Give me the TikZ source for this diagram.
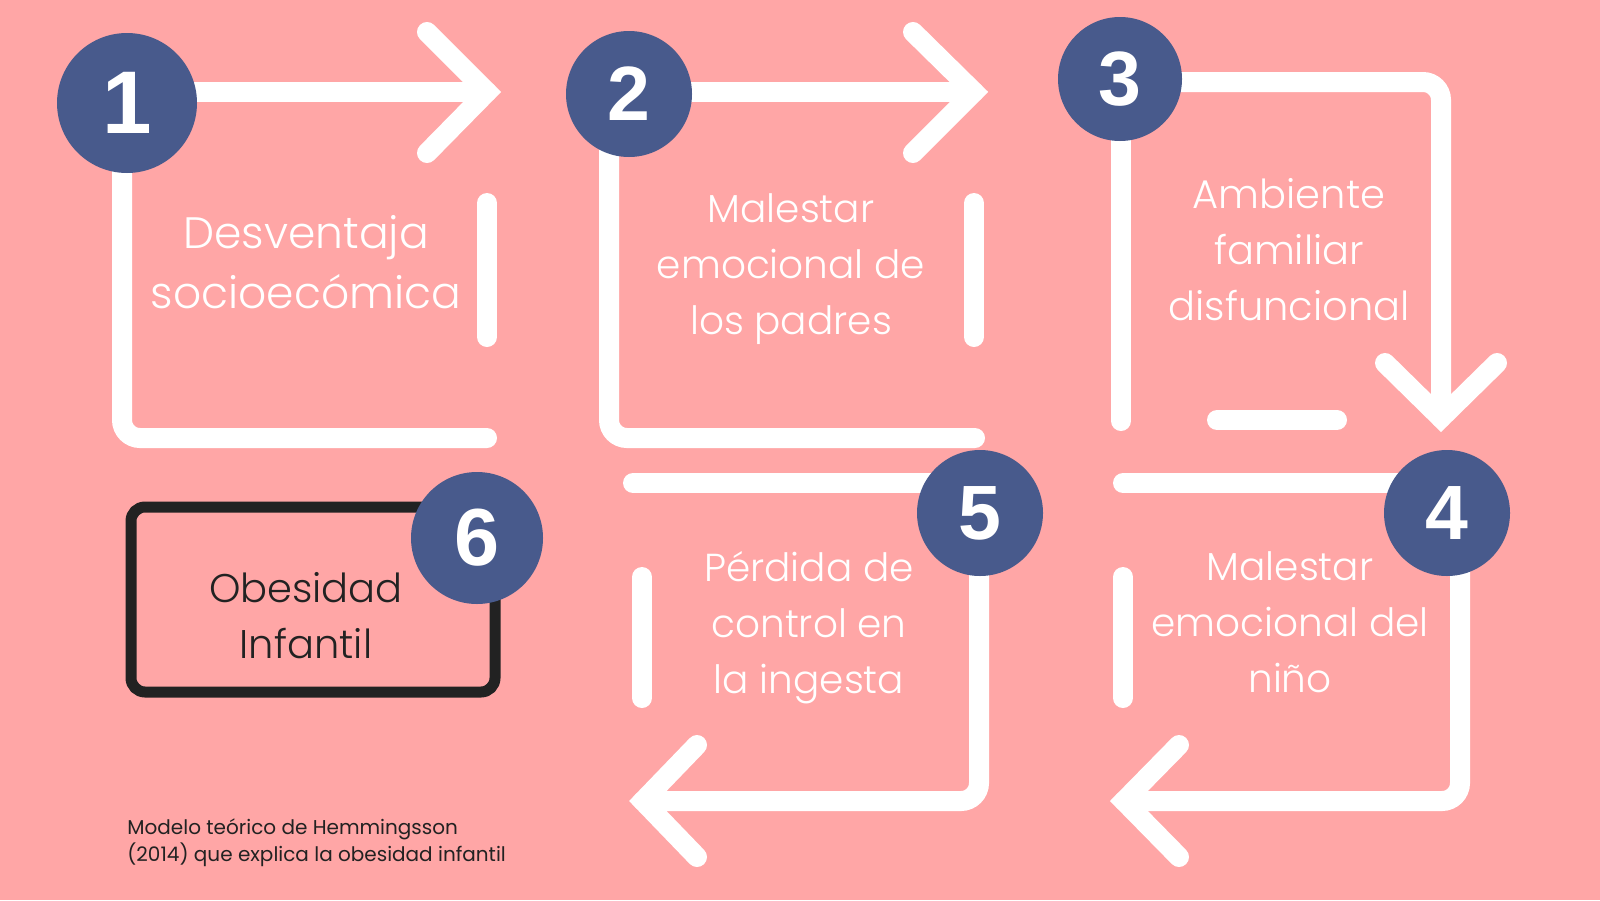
\documentclass[tikz,border=0pt]{standalone}
\usepackage{fontspec}
\setmainfont{Poppins}[UprightFont={* Light}]
\newfontfamily\capfont{Poppins}
\newfontfamily\numfont{Liberation Sans}
\usetikzlibrary{backgrounds}
\definecolor{bgpink}{HTML}{FFA6A6}
\definecolor{numblue}{HTML}{485A8C}
\definecolor{inkdark}{HTML}{222222}
\begin{document}
\begin{tikzpicture}[x=0.5pt,y=-0.5pt,
    wline/.style={draw=white,line width=10pt,line cap=round,rounded corners=9pt},
    whead/.style={draw=white,line width=10pt,line cap=round,line join=miter},
    num/.style={circle,fill=numblue,text=white,inner sep=0pt,minimum size=63pt,
      font=\numfont\bfseries\fontsize{38.5}{40}\selectfont},
    steptext/.style={text=white,align=center,inner sep=0pt,font=\fontsize{19.5}{28}\selectfont},
    goalbox/.style={draw=inkdark,line width=5.5pt,rounded corners=7pt,
      minimum width=182pt,minimum height=92.5pt,inner sep=0pt}]
  \useasboundingbox (0,0) rectangle (1600,900);
  \node[num,minimum size=70pt,font=\numfont\bfseries\fontsize{44.5}{46}\selectfont] (n1) at (127,103) {1};
  \node[num] (n2) at (629,94) {2};
  \node[num,minimum size=62pt] (n3) at (1120,79) {3};
  \node[num] (n4) at (1447,513) {4};
  \node[num] (n5) at (980,513) {5};
  \node[goalbox] (b6) at (313,599.5) {};
  \node[num,minimum size=66pt,font=\numfont\bfseries\fontsize{40.5}{42}\selectfont] (n6) at (477,538) {6};
  \node[steptext,font=\fontsize{22}{30}\selectfont] (t1) at (306,262) {Desventaja\\socioecómica};
  \node[steptext] (t2) at (791,269.5) {Malestar\\emocional de\\los padres};
  \node[steptext,font=\fontsize{20}{28}\selectfont] (t3) at (1289,250) {Ambiente\\familiar\\disfuncional};
  \node[steptext] (t4) at (1290,622.5) {Malestar\\emocional del\\niño};
  \node[steptext] (t5) at (809,627.5) {Pérdida de\\control en\\la ingesta};
  \node[steptext,text=inkdark,font=\fontsize{20}{28}\selectfont] (t6) at (306,616) {Obesidad\\Infantil};
  \node[text=inkdark,align=left,anchor=north west,inner sep=0pt,font=\capfont\fontsize{10}{13.8}\selectfont]
    (src) at (127,818) {Modelo teórico de Hemmingsson\\(2014) que explica la obesidad infantil};
  \coordinate (v1) at (487,92);   \coordinate (a1) at (427,32);   \coordinate (b1) at (427,153);
  \coordinate (c1) at (122,438);  \coordinate (e1) at (487,438);
  \coordinate (s1a) at (487,203); \coordinate (s1b) at (487,337);
  \coordinate (v2) at (974,92);   \coordinate (a2) at (913,32);   \coordinate (b2) at (913,153);
  \coordinate (c2) at (609,438);  \coordinate (e2) at (975,438);
  \coordinate (s2a) at (974,203); \coordinate (s2b) at (974,337);
  \coordinate (k3) at (1441,82);  \coordinate (v3) at (1441,418);
  \coordinate (a3) at (1385,363); \coordinate (b3) at (1497,363);
  \coordinate (d3) at (1121,421);
  \coordinate (s3a) at (1217,420); \coordinate (s3b) at (1337,420);
  \coordinate (u4) at (1123,483); \coordinate (k4) at (1460,801); \coordinate (v4) at (1124,801);
  \coordinate (a4) at (1179,745); \coordinate (b4) at (1179,857);
  \coordinate (s4a) at (1123,577); \coordinate (s4b) at (1123,698);
  \coordinate (u5) at (633,483);  \coordinate (k5) at (979,801);  \coordinate (v5) at (643,801);
  \coordinate (a5) at (697,745);  \coordinate (b5) at (697,857);
  \coordinate (s5a) at (642,577); \coordinate (s5b) at (642,698);
  \begin{scope}[on background layer]
    \fill[bgpink] (0,0) rectangle (1600,900);
    \draw[wline] (n1 |- v1) -- (v1);
    \draw[whead] (a1) -- (v1) -- (b1);
    \draw[wline] (n1 -| c1) -- (c1) -- (e1);
    \draw[wline] (s1a) -- (s1b);
    \draw[wline] (n2 |- v2) -- (v2);
    \draw[whead] (a2) -- (v2) -- (b2);
    \draw[wline] (n2 -| c2) -- (c2) -- (e2);
    \draw[wline] (s2a) -- (s2b);
    \draw[wline] (n3 |- k3) -- (k3) -- (v3);
    \draw[whead] (a3) -- (v3) -- (b3);
    \draw[wline] (n3 -| d3) -- (d3);
    \draw[wline] (s3a) -- (s3b);
    \draw[wline] (u4) -- (u4 -| n4);
    \draw[wline] (k4 |- n4) -- (k4) -- (v4);
    \draw[whead] (a4) -- (v4) -- (b4);
    \draw[wline] (s4a) -- (s4b);
    \draw[wline] (u5) -- (u5 -| n5);
    \draw[wline] (k5 |- n5) -- (k5) -- (v5);
    \draw[whead] (a5) -- (v5) -- (b5);
    \draw[wline] (s5a) -- (s5b);
  \end{scope}
\end{tikzpicture}
\end{document}
